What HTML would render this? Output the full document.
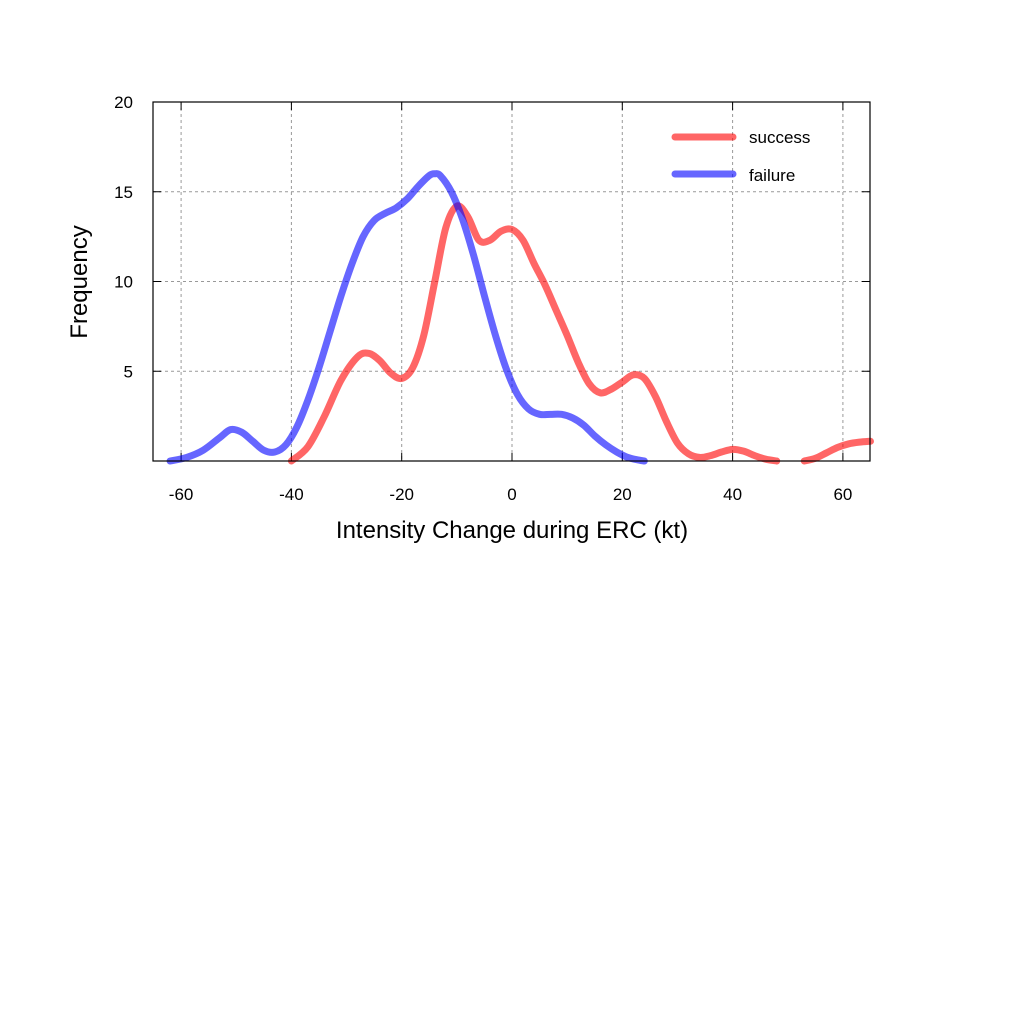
<!DOCTYPE html>
<html><head><meta charset="utf-8"><style>
body{margin:0;background:#fff;}
svg text{font-family:"Liberation Sans",sans-serif;fill:#000;}
</style></head><body>
<svg id="chart" width="1024" height="1024" viewBox="0 0 1024 1024" xmlns="http://www.w3.org/2000/svg">
<rect width="1024" height="1024" fill="#fff"/>
<g id="grid"></g>
<g id="ticks"></g>
<g id="series"></g>
<rect x="153" y="102" width="717" height="359" fill="none" stroke="#000" stroke-width="1.2"/>
<text transform="translate(87,282) rotate(-90)" text-anchor="middle" font-size="24">Frequency</text>
<text x="512" y="538" text-anchor="middle" font-size="24">Intensity Change during ERC (kt)</text>
<g>
<line x1="675" y1="137" x2="733" y2="137" stroke="#f00" stroke-opacity="0.6" stroke-width="7" stroke-linecap="round"/>
<text x="749" y="143" font-size="17">success</text>
<line x1="675" y1="174" x2="733" y2="174" stroke="#00f" stroke-opacity="0.6" stroke-width="7" stroke-linecap="round"/>
<text x="749" y="181" font-size="17">failure</text>
</g>
</svg>
<script>
const xTicks=[-60,-40,-20,0,20,40,60];
const yTicks=[5,10,15,20];
const successX1=[-40,-37,-34,-31,-28,-26,-24,-22,-20,-18,-16,-14,-12,-10,-8,-6,-4,-2,0,2,4,6,8,10,12,14,16,18,20,22,24,26,28,30,32,34,36,38,40,42,44,46,48];
const successY1=[0,0.8,2.5,4.5,5.8,6.0,5.6,4.9,4.6,5.2,7,10,13,14.2,13.6,12.3,12.3,12.8,12.9,12.3,11,9.8,8.4,7.0,5.5,4.3,3.8,4.0,4.4,4.8,4.6,3.6,2.2,1.0,0.4,0.2,0.3,0.5,0.65,0.55,0.3,0.1,0];
const successX2=[53,55,57,59,61,63,65];
const successY2=[0,0.15,0.45,0.75,0.95,1.05,1.1];
const failureX=[-62,-59,-56,-53,-51,-49,-47,-45,-43,-41,-39,-37,-35,-33,-31,-29,-27,-25,-23,-21,-19,-17,-15,-14,-13,-11,-9,-7,-5,-3,-1,1,3,5,7,9,11,13,15,17,19,21,23,24];
const failureY=[0,0.2,0.6,1.3,1.75,1.6,1.1,0.6,0.5,0.9,1.9,3.4,5.2,7.2,9.2,11,12.5,13.4,13.8,14.1,14.6,15.3,15.9,16.0,15.9,15.0,13.5,11.5,9.2,7.0,5.1,3.7,2.9,2.6,2.6,2.6,2.4,2.0,1.4,0.9,0.5,0.2,0.05,0];
const X=v=>512+v*5.515, Y=v=>461-v*17.95;
const NS='http://www.w3.org/2000/svg';
const mk=(t,a,p)=>{const e=document.createElementNS(NS,t);for(const k in a)e.setAttribute(k,a[k]);p.appendChild(e);return e;};
const grid=document.getElementById('grid'), ticks=document.getElementById('ticks'), series=document.getElementById('series');
xTicks.forEach(v=>{
 const g=mk('line',{x1:X(v),x2:X(v),y1:102,y2:461,stroke:'#999','stroke-dasharray':'3,3','stroke-width':1},grid);
 
 
 mk('line',{x1:X(v),x2:X(v),y1:461,y2:453,stroke:'#000'},ticks);
 mk('line',{x1:X(v),x2:X(v),y1:102,y2:110,stroke:'#000'},ticks);
 const t=mk('text',{x:X(v),y:500,'text-anchor':'middle','font-size':17},ticks);
 t.textContent=v;
 
 
});
yTicks.forEach(v=>{
 if(v<20){const g=mk('line',{x1:153,x2:870,y1:Y(v),y2:Y(v),stroke:'#999','stroke-dasharray':'3,3','stroke-width':1},grid);
 
 }
 mk('line',{x1:153,x2:161,y1:Y(v),y2:Y(v),stroke:'#000'},ticks);
 mk('line',{x1:870,x2:862,y1:Y(v),y2:Y(v),stroke:'#000'},ticks);
 const t=mk('text',{x:133,y:Y(v)+6,'text-anchor':'end','font-size':17},ticks);
 t.textContent=v;
 
 
});
function pathD(xs,ys){
 const p=xs.map((x,i)=>[X(x),Y(ys[i])]);
 let d='M'+p[0][0]+','+p[0][1];
 for(let i=0;i<p.length-1;i++){
  const p0=p[i-1]||p[i],p1=p[i],p2=p[i+1],p3=p[i+2]||p2;
  const c1=[p1[0]+(p2[0]-p0[0])/6,p1[1]+(p2[1]-p0[1])/6];
  const c2=[p2[0]-(p3[0]-p1[0])/6,p2[1]-(p3[1]-p1[1])/6];
  d+=' C'+c1+' '+c2+' '+p2;
 }
 return d;
}
function addLine(xs,ys,col,name){
 const e=mk('path',{d:pathD(xs,ys),fill:'none',stroke:col,'stroke-opacity':0.6,'stroke-width':7,'stroke-linecap':'round','stroke-linejoin':'round'},series);
 
 
}
addLine(successX1,successY1,'#f00','success-line');
addLine(successX2,successY2,'#f00','success-line-tail');
addLine(failureX,failureY,'#00f','failure-line');
</script>
</body></html>
